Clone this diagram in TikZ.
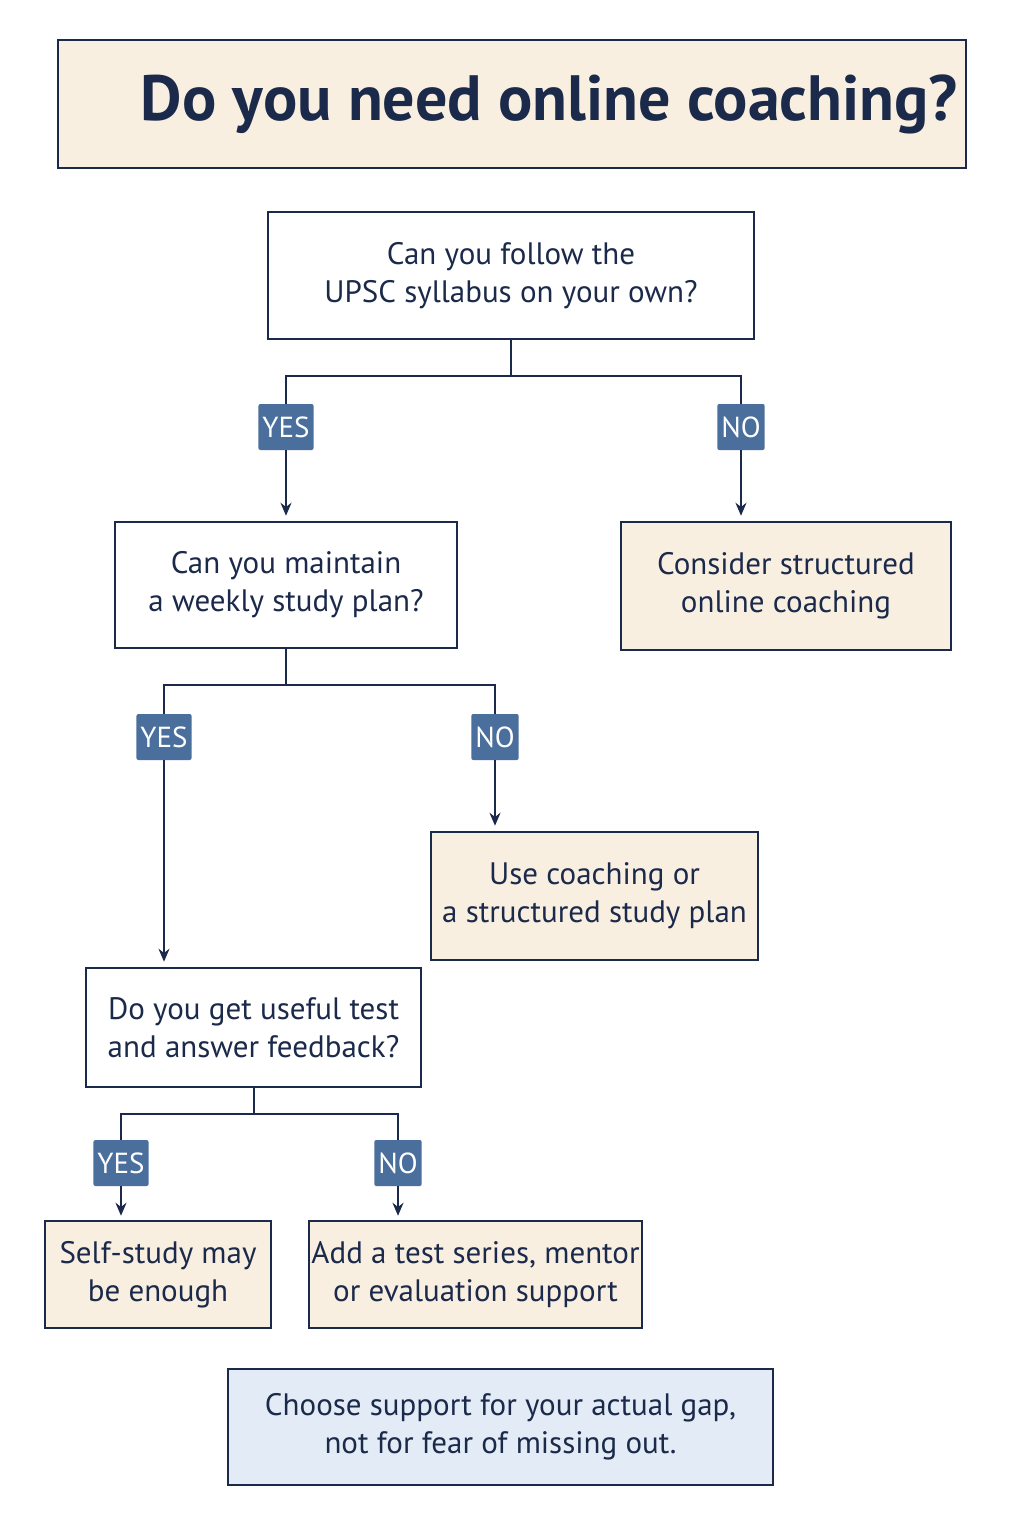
\documentclass[tikz,border=0pt]{standalone}
\usepackage{fontspec}
\setmainfont{PT Sans}
\usetikzlibrary{arrows.meta, positioning, calc}
\definecolor{navy}{HTML}{1B2A4A}
\definecolor{cream}{HTML}{F8EFE1}
\definecolor{tagblue}{HTML}{4A6F9C}
\definecolor{paleblue}{HTML}{E3ECF6}
\tikzset{
  box/.style={draw=navy, line width=2.5pt, fill=white, align=center, text=navy,
    font=\fontsize{31}{38}\selectfont, inner sep=0pt},
  endbox/.style={box, fill=cream},
  tag/.style={fill=tagblue, text=white, rounded corners=2pt, inner sep=4pt,
    minimum height=46pt, font=\fontsize{29}{30}\selectfont},
  link/.style={draw=navy, line width=2pt},
  arrow/.style={link, -{Stealth[length=13pt, width=11pt]}}
}
\begin{document}
\begin{tikzpicture}[x=1pt, y=-1pt]
    \useasboundingbox[fill=white] (0,0) rectangle (1024,1536);

    % Title
    \node[endbox, minimum width=908pt, minimum height=128pt,
      font=\fontsize{64}{70}\selectfont\bfseries] (title) at (512,104) {\hspace{75pt}Do you need online coaching?};

    % Questions
    \node[box, minimum width=486pt, minimum height=127pt] (q1) at (511,275.5) {Can you follow the\\UPSC syllabus on your own?};
    \node[box, minimum width=342pt, minimum height=126pt] (q2) at (286,585) {Can you maintain\\a weekly study plan?};
    \node[box, minimum width=335pt, minimum height=119pt] (q3) at (253.5,1027.5) {Do you get useful test\\and answer feedback?};

    % Outcomes
    \node[endbox, minimum width=330pt, minimum height=128pt] (c1) at (786,586) {Consider structured\\online coaching};
    \node[endbox, minimum width=327pt, minimum height=128pt] (c2) at (594.5,896) {Use coaching or\\a structured study plan};
    \node[endbox, minimum width=226pt, minimum height=107pt] (c3) at (158,1274.5) {Self-study may\\be enough};
    \node[endbox, minimum width=333pt, minimum height=107pt] (c4) at (475.5,1274.5) {Add a test series, mentor\\or evaluation support};
    \node[box, fill=paleblue, minimum width=545pt, minimum height=116pt] (tip) at (500.5,1427) {Choose support for your actual gap,\\not for fear of missing out.};

    % Answer tags
    \node[tag] (yes1) at (286,427) {YES};
    \node[tag] (no1) at (741,427) {NO};
    \node[tag] (yes2) at (164,737) {YES};
    \node[tag] (no2) at (495,737) {NO};
    \node[tag] (yes3) at (121,1163) {YES};
    \node[tag] (no3) at (398,1163) {NO};

    % Connectors
    \coordinate (s1) at ($(q1.south)+(0,36)$);
    \coordinate (s2) at ($(q2.south)+(0,36)$);
    \coordinate (s3) at ($(q3.south)+(0,26)$);
    \draw[link] (q1.south) -- (s1) -| (yes1.north);
    \draw[link] (s1) -| (no1.north);
    \draw[link] (q2.south) -- (s2) -| (yes2.north);
    \draw[link] (s2) -| (no2.north);
    \draw[link] (q3.south) -- (s3) -| (yes3.north);
    \draw[link] (s3) -| (no3.north);
    \draw[arrow] (yes1.south) -- ($(q2.north)+(0,-5)$);
    \draw[arrow] (no1.south) -- ($(c1.north -| no1)+(0,-5)$);
    \draw[arrow] (yes2.south) -- ($(q3.north -| yes2)+(0,-5)$);
    \draw[arrow] (no2.south) -- ($(c2.north -| no2)+(0,-5)$);
    \draw[arrow] (yes3.south) -- ($(c3.north -| yes3)+(0,-4)$);
    \draw[arrow] (no3.south) -- ($(c4.north -| no3)+(0,-4)$);
\end{tikzpicture}
\end{document}
